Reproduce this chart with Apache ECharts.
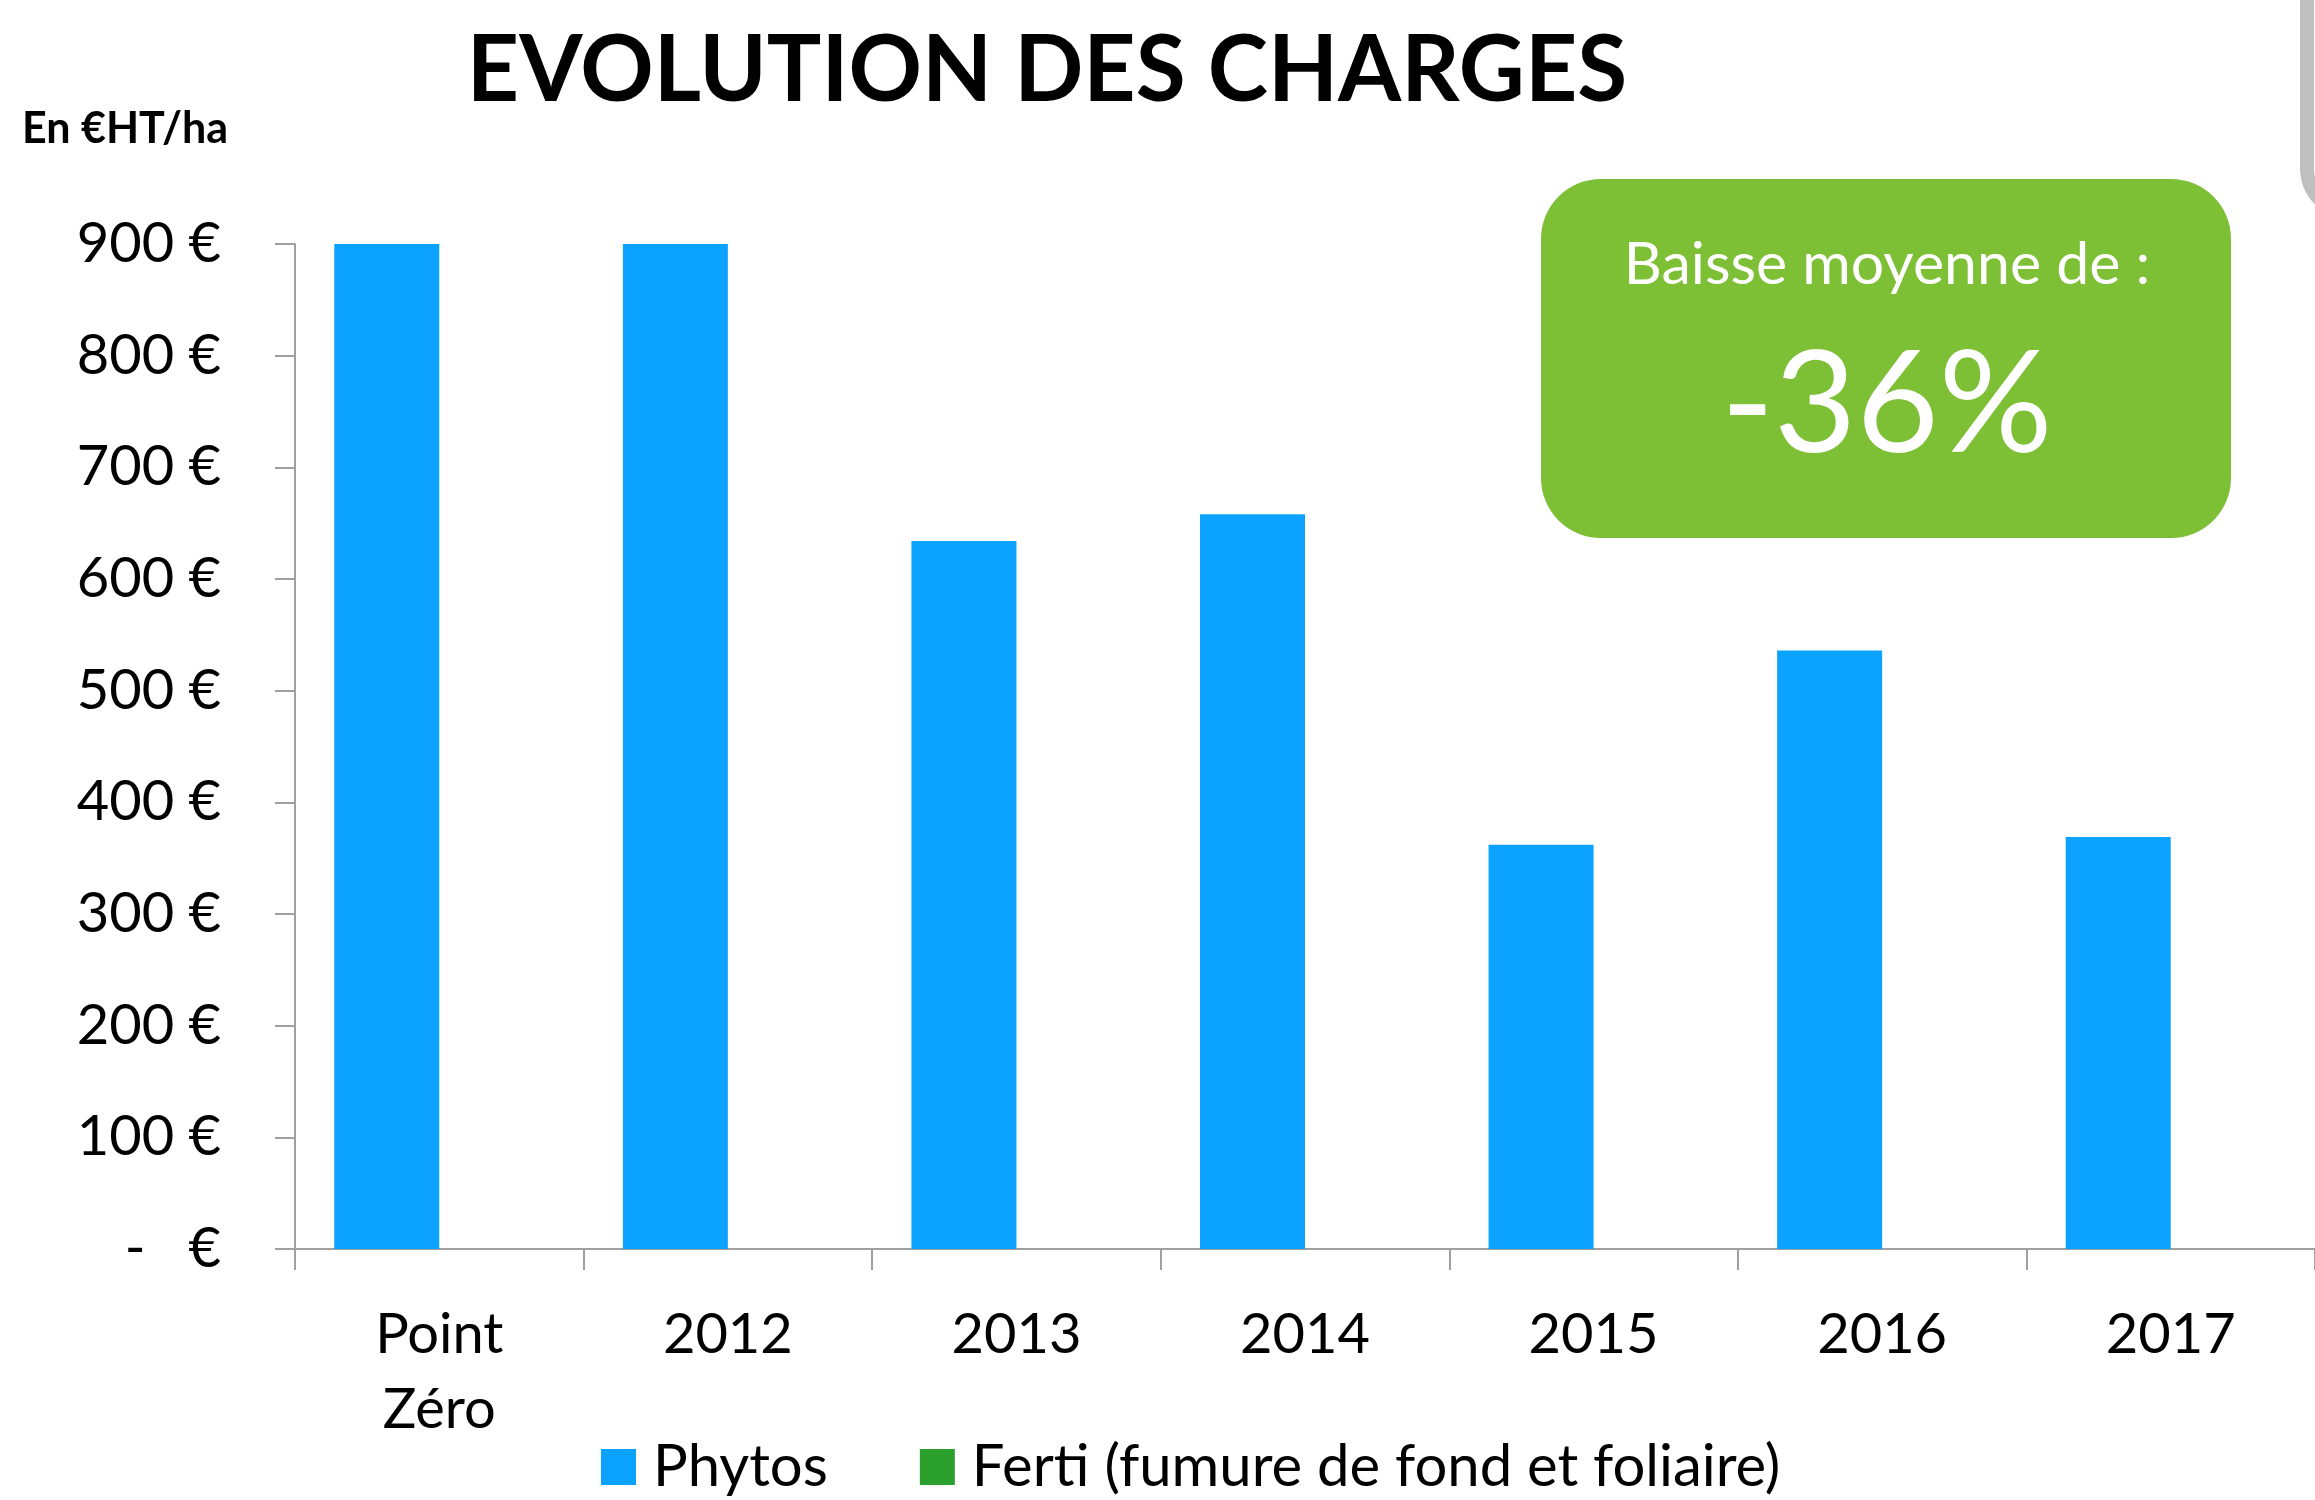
<!DOCTYPE html>
<html>
<head>
<meta charset="utf-8">
<script src="https://cdn.jsdelivr.net/npm/echarts@6/dist/echarts.min.js"></script>
<style>
html,body{margin:0;padding:0;background:#fff;}
#chart{width:2315px;height:1500px;}
</style>
</head>
<body>
<div id="chart"></div>
<script>
// ---- data ----
const categories = ['Point\nZéro', '2012', '2013', '2014', '2015', '2016', '2017'];
const phytosValues = [900, 900, 634, 658, 362, 536, 369];
const fertiValues = [0, 0, 0, 0, 0, 0, 0];
const seriesNames = ['Phytos', 'Ferti (fumure de fond et foliaire)'];
const yTicks = { min: 0, max: 900, interval: 100 };
const titleText = 'EVOLUTION DES CHARGES';
const unitText = 'En €HT/ha';
const boxLabel = 'Baisse moyenne de :';
const boxValue = '-36%';

const FONT = 'Lato';
const chart = echarts.init(document.getElementById('chart'), null, { renderer: 'canvas' });

chart.setOption({
  backgroundColor: '#ffffff',
  animation: false,
  textStyle: { fontFamily: FONT },
  grid: { left: 295, top: 244, width: 2025, height: 1005, containLabel: false },
  legend: {
    left: 596, top: 1433,
    itemWidth: 35, itemHeight: 36, itemGap: 92,
    icon: 'rect',
    textStyle: { fontFamily: FONT, fontSize: 58, color: '#000', padding: [0, 0, 0, 12] },
    data: seriesNames
  },
  xAxis: {
    type: 'category',
    data: categories,
    boundaryGap: true,
    axisLine: { show: true, lineStyle: { color: '#a0a0a0', width: 2 } },
    axisTick: { show: true, length: 21, alignWithLabel: false, lineStyle: { color: '#a0a0a0', width: 2 } },
    axisLabel: { fontFamily: FONT, fontSize: 56, color: '#000', margin: 48, lineHeight: 75, interval: 0 }
  },
  yAxis: {
    type: 'value',
    min: yTicks.min, max: yTicks.max, interval: yTicks.interval,
    splitLine: { show: false },
    axisLine: { show: true, lineStyle: { color: '#a0a0a0', width: 2 } },
    axisTick: { show: true, length: 20, lineStyle: { color: '#a0a0a0', width: 2 } },
    axisLabel: {
      fontFamily: FONT, fontSize: 56, color: '#000', margin: 74,
      formatter: v => v === 0 ? '-   €' : v + ' €'
    }
  },
  series: [
    { name: seriesNames[0], type: 'bar', data: phytosValues, barWidth: 105, barGap: '0%', itemStyle: { color: '#0ba3ff' } },
    { name: seriesNames[1], type: 'bar', data: fertiValues, barWidth: 105, barGap: '0%', itemStyle: { color: '#2ca02c' } }
  ],
  graphic: [
    { type: 'text', style: { text: titleText, x: 1047, y: 72, align: 'center', verticalAlign: 'middle', font: 'bold 91px Lato', fill: '#000' } },
    { type: 'text', style: { text: unitText, x: 22, y: 129, align: 'left', verticalAlign: 'middle', font: 'bold 43px Lato', fill: '#000' } },
    { type: 'rect', shape: { x: 1541, y: 179, width: 690, height: 359, r: 60 }, style: { fill: '#7dbf35' } },
    { type: 'text', style: { text: boxLabel, x: 1887, y: 265, align: 'center', verticalAlign: 'middle', font: '59px Lato', fill: '#fff' } },
    { type: 'text', style: { text: boxValue, x: 1887, y: 406, align: 'center', verticalAlign: 'middle', font: '142px Lato', fill: '#fff' } },
    { type: 'rect', shape: { x: 2307, y: -60, width: 200, height: 273, r: 45 }, style: { fill: 'none', stroke: '#bfbfbf', lineWidth: 14 } }
  ]
});
</script>
</body>
</html>
